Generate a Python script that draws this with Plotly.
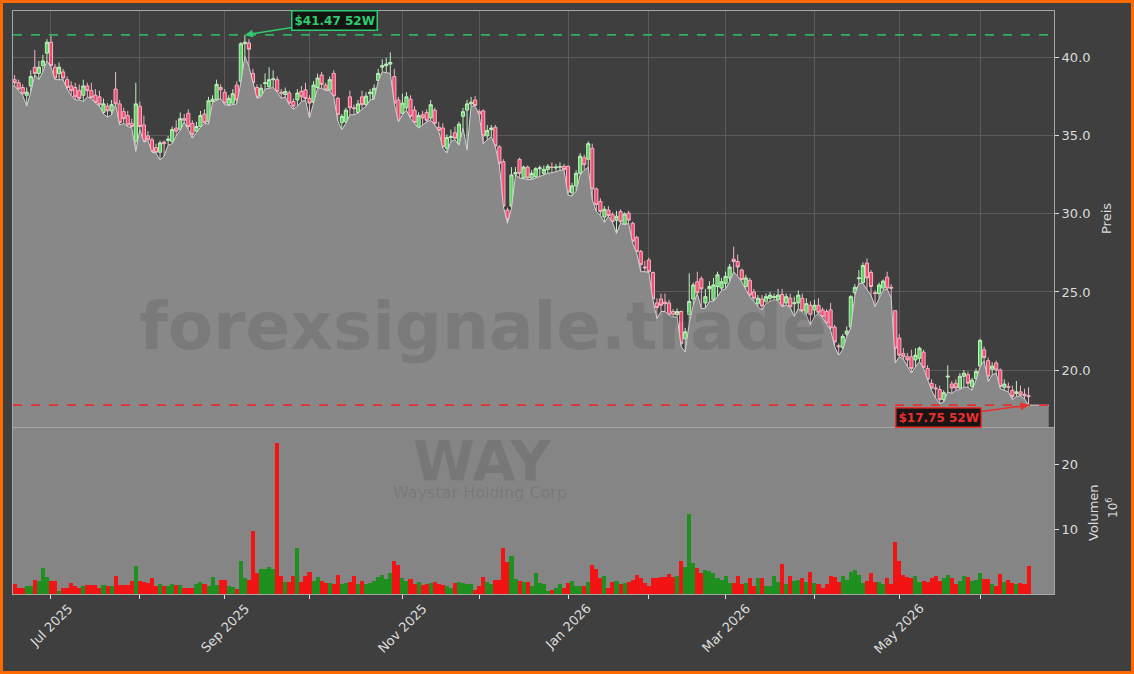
import numpy as np
import pandas as pd
import plotly.graph_objects as go

# ---------------- data ----------------
open_ = [38.6,38.4,38.1,37.6,38.2,39.4,39.0,39.5,40.3,41.0,
39.4,39.0,39.1,38.6,38.2,38.1,37.9,37.6,38.2,37.9,
37.6,37.5,36.5,36.9,36.6,38.0,37.05,36.55,36.3,35.8,
34.65,36.9,35.7,35.0,34.75,34.25,33.95,34.6,34.7,34.65,
35.5,35.4,36.1,36.45,35.8,35.3,35.6,36.4,35.9,37.2,
37.3,38.1,37.8,37.0,37.1,38.25,38.5,40.9,40.95,39.0,
38.1,37.55,38.35,38.15,38.6,38.6,37.8,37.65,37.75,37.2,
37.3,37.85,37.95,37.4,37.15,38.1,38.9,38.25,37.95,39.0,
37.4,35.85,35.9,37.5,36.8,36.5,37.5,37.0,37.7,37.4,
38.55,39.4,39.5,39.6,38.8,37.3,36.45,36.8,37.35,36.65,
35.55,36.35,36.5,36.15,36.65,35.55,35.5,34.2,34.9,35.2,
34.5,36.25,36.65,37.05,37.3,36.55,36.6,35.0,35.4,35.55,
34.3,33.35,30.25,30.5,32.55,33.5,32.3,33.0,32.3,32.4,
32.9,32.6,32.85,33.0,32.95,33.0,33.05,33.05,31.35,31.8,
32.6,33.6,33.5,34.2,31.6,30.8,29.8,30.25,29.95,29.6,
30.15,29.35,30.05,29.4,28.5,27.6,26.6,27.05,26.25,24.3,
24.55,24.35,24.3,23.75,23.55,23.75,22.0,23.55,24.55,25.65,
25.85,24.3,25.2,24.5,25.35,25.25,25.55,25.9,27.1,26.95,
26.4,25.35,25.75,25.0,24.25,24.55,24.4,24.6,24.65,24.5,
24.85,24.3,24.6,24.25,24.3,24.6,23.65,24.15,23.85,24.15,
23.85,23.75,23.85,22.75,21.55,21.45,22.3,22.75,24.95,25.85,
25.6,26.85,26.25,24.95,24.9,25.25,25.95,25.3,23.8,22.05,
21.05,20.85,20.85,20.65,20.75,21.15,20.1,19.15,18.85,18.75,
18.1,19.55,19.1,19.15,18.85,19.6,19.7,18.95,19.45,20.25,
21.3,20.6,20.05,20.45,20.0,18.9,18.95,18.7,18.5,18.6,
18.45,18.35]

high = [38.9,38.6,38.3,38.1,39.2,40.5,39.8,40.2,41.2,41.4,
39.6,39.7,39.3,38.8,38.5,38.4,38.3,38.6,38.4,38.4,
38.0,37.9,37.4,37.1,37.3,39.1,37.3,36.8,36.6,36.1,
38.4,37.2,36.3,35.3,34.9,34.5,34.7,34.7,35.0,35.6,
36.0,36.5,36.4,36.7,36.0,35.9,36.6,36.7,37.5,37.6,
38.6,38.3,38.0,37.6,38.0,38.5,41.0,41.47,41.2,39.3,
38.3,38.3,39.0,39.4,39.2,38.8,38.0,38.1,37.9,37.4,
38.0,38.2,38.4,37.6,38.5,39.0,39.1,38.4,38.8,39.2,
37.5,36.4,36.8,37.9,37.0,37.3,37.9,37.8,38.0,38.3,
39.3,39.9,40.0,40.35,39.3,37.5,37.7,37.8,37.6,36.9,
36.5,36.6,36.7,37.3,36.8,35.9,35.8,35.1,35.4,35.6,
35.9,36.8,37.3,37.5,37.55,36.7,36.7,35.7,35.7,35.7,
34.4,33.5,30.4,33.0,33.0,33.6,33.1,33.1,32.8,33.0,
33.1,33.1,33.2,33.3,33.2,33.3,33.2,33.1,32.0,32.8,
33.9,33.8,34.65,34.5,31.7,31.0,30.5,30.5,30.1,30.2,
30.3,30.1,30.2,29.5,28.6,27.7,27.0,27.2,26.3,24.6,
24.9,24.9,24.5,23.9,23.95,23.8,22.7,26.2,25.6,26.3,
26.0,25.2,25.7,25.9,26.3,25.9,26.3,26.8,27.9,27.4,
26.5,26.1,25.9,25.2,24.8,24.8,24.9,25.0,24.9,25.2,
25.2,24.9,24.9,24.7,25.1,24.9,24.6,24.4,24.5,24.6,
24.0,23.9,24.3,22.9,21.7,22.3,22.8,24.8,25.5,26.4,
26.9,27.15,26.4,25.1,25.6,25.8,26.3,25.5,23.85,22.3,
21.4,21.1,21.3,21.4,21.5,21.3,20.3,19.4,19.1,19.0,
18.7,20.3,19.3,19.4,19.8,20.0,19.9,19.5,20.1,22.0,
21.5,20.8,20.5,20.6,20.1,19.4,19.2,19.0,19.3,19.0,
18.8,18.9]

low = [38.2,37.9,37.6,36.9,37.8,38.9,38.6,39.1,39.8,39.4,
38.6,38.6,38.6,38.0,37.6,37.3,37.3,37.2,37.5,37.4,
37.1,36.9,36.4,36.2,36.35,37.0,35.7,35.8,35.6,35.5,
34.0,35.4,34.6,34.7,33.95,33.9,33.45,33.7,34.4,34.5,
35.0,35.35,35.9,35.4,34.85,35.2,35.55,35.8,35.75,37.15,
37.25,37.4,37.0,36.95,37.0,37.05,38.4,40.1,39.45,38.35,
37.4,37.5,38.0,38.05,38.1,37.8,37.4,37.5,37.0,36.7,
36.9,37.2,37.3,36.15,37.1,38.05,38.05,37.9,37.9,37.5,
35.95,35.4,35.8,36.35,36.35,36.45,36.7,36.9,37.3,37.35,
38.5,39.1,39.05,39.0,37.05,35.9,36.35,36.65,36.1,35.8,
35.5,35.7,35.9,36.0,35.7,35.3,34.2,33.9,34.65,34.75,
34.4,35.5,34.1,36.9,36.9,36.35,34.5,34.75,34.95,34.3,
33.1,30.45,29.4,30.35,32.5,32.3,32.25,32.2,32.2,32.3,
32.4,32.45,32.6,32.65,32.7,32.8,32.8,31.2,31.15,31.45,
32.5,32.8,33.0,30.9,30.15,29.9,29.45,29.85,29.45,28.75,
29.4,29.3,29.4,28.1,27.5,26.3,26.3,26.25,24.5,23.3,
23.75,23.75,23.5,23.4,23.4,21.5,21.15,23.0,24.15,24.9,
23.95,23.95,24.4,24.4,24.7,25.1,25.2,25.65,26.3,26.0,
25.65,25.15,24.7,24.4,24.05,23.85,24.25,24.4,24.5,24.45,
24.05,24.15,24.0,23.4,23.95,23.7,23.5,22.9,23.4,23.65,
23.35,22.95,22.55,21.5,20.95,21.3,22.15,22.7,24.8,25.55,
25.55,25.15,24.8,24.05,24.6,25.1,25.2,24.6,20.45,20.85,
20.7,20.2,19.8,20.2,20.55,20.1,19.35,18.7,18.2,17.85,
17.95,18.6,18.5,18.7,18.75,18.9,18.9,18.7,19.35,20.2,
20.6,19.25,19.7,19.8,18.8,18.7,18.6,18.1,18.3,18.35,
18.15,17.75]

close = [38.4,38.0,37.7,37.8,38.8,39.0,39.4,39.8,41.0,39.5,
38.7,39.4,38.7,38.1,37.9,37.5,37.4,38.2,37.9,37.45,
37.15,37.0,37.05,36.6,37.0,37.05,35.85,36.1,35.7,35.6,
37.05,35.6,34.65,34.75,34.0,33.95,34.55,34.5,34.8,35.4,
35.3,36.1,36.0,35.6,35.1,35.6,36.3,35.85,37.25,37.35,
38.3,37.95,37.1,37.4,37.7,37.3,40.9,41.0,40.55,38.4,
37.45,38.05,38.4,38.6,38.65,37.85,37.7,37.85,37.1,36.9,
37.75,37.5,37.4,37.1,38.25,38.7,38.3,37.95,38.6,37.55,
36.35,36.25,36.65,36.8,36.75,37.05,37.0,37.55,37.8,38.05,
39.0,39.5,39.6,39.7,37.1,35.95,37.1,37.5,36.25,35.85,
36.3,36.15,36.0,37.0,35.8,35.35,34.3,34.9,34.95,34.85,
35.75,36.55,37.05,37.15,36.95,36.4,35.0,35.35,35.5,34.35,
33.25,30.5,29.65,32.5,32.65,32.6,33.0,32.3,32.6,32.9,
32.95,32.85,33.05,32.98,33.0,33.02,32.85,31.4,31.8,32.6,
33.7,33.15,34.5,31.6,30.6,30.15,30.3,29.9,29.5,29.85,
29.5,30.0,29.6,28.25,27.6,26.75,26.55,26.3,24.55,24.0,
24.15,24.25,23.55,23.55,23.75,21.7,22.45,24.4,25.45,24.95,
25.2,24.7,25.35,25.45,26.1,25.65,26.0,26.6,26.95,26.6,
25.8,25.9,24.8,24.6,24.6,24.1,24.7,24.8,24.7,24.8,
24.1,24.7,24.05,24.3,24.8,23.8,24.25,23.55,24.15,23.7,
23.4,23.0,22.7,21.8,21.5,22.15,22.5,24.7,25.3,25.9,
26.7,25.9,25.35,24.9,25.45,25.7,25.25,25.25,21.4,20.95,
20.85,20.65,20.1,20.95,21.4,20.15,19.4,18.85,18.8,18.1,
18.55,19.6,18.85,18.85,19.6,19.8,19.15,19.35,19.9,21.9,
20.8,19.6,20.25,20.0,18.95,19.1,18.9,18.3,18.6,18.4,
18.35,18.3]

volume_m = [1.8,1.2,1.2,1.4,1.5,2.4,2.2,4.2,2.8,2.2,
2.2,0.7,1.2,1.2,1.9,1.4,1.2,1.5,1.6,1.6,
1.6,1.2,1.6,1.5,1.5,3.0,1.6,1.6,1.6,2.2,
4.5,2.2,2.1,1.9,2.7,1.5,1.8,1.5,1.5,1.8,
1.6,1.6,1.1,1.2,1.2,1.7,2.1,1.7,1.5,2.9,
1.6,2.4,2.4,1.5,1.3,1.0,5.3,2.7,2.4,9.9,
3.4,4.0,4.0,4.4,4.1,23.2,3.0,2.1,2.1,3.0,
7.2,2.1,3.0,3.6,2.2,2.8,2.2,1.9,1.9,1.8,
3.2,1.8,1.9,2.1,3.0,1.8,2.2,1.8,1.9,2.2,
2.8,3.2,2.5,3.5,5.2,4.6,2.7,2.3,2.6,1.7,
2.1,1.6,1.8,1.9,2.1,1.7,1.6,1.5,1.2,2.0,
2.1,1.9,1.7,1.8,0.8,1.4,2.9,2.1,1.7,2.4,
2.4,7.3,5.1,6.0,2.6,2.3,2.1,2.1,1.4,3.4,
2.0,1.8,0.7,0.8,1.1,1.8,1.2,2.0,2.2,1.4,
1.5,1.4,2.1,4.6,4.1,2.7,3.0,1.2,2.1,2.2,
1.7,2.0,2.1,2.4,3.2,2.7,1.9,1.4,2.7,2.7,
2.8,2.8,3.3,2.9,3.0,5.2,4.4,12.4,5.0,4.2,
3.4,3.9,3.8,3.5,2.7,2.4,3.0,1.9,2.0,3.0,
1.8,1.9,2.7,1.4,2.7,2.7,1.5,1.5,3.0,2.1,
4.8,1.8,3.0,2.3,2.4,2.7,2.1,3.6,2.0,1.8,
1.2,1.8,3.0,2.8,2.1,3.0,2.4,3.6,3.9,3.2,
2.0,2.3,3.5,2.1,2.1,1.8,2.7,1.8,8.2,5.2,
3.2,2.9,2.7,3.0,2.1,2.2,2.1,2.7,3.0,2.2,
2.7,3.1,2.7,1.7,2.2,3.0,2.8,2.3,2.4,3.4,
2.5,2.5,1.8,1.4,3.3,2.1,2.4,1.9,1.7,1.9,
1.8,4.5]

start_date = "2025-06-17"
market_holidays = ["2025-06-19", "2025-07-04", "2025-09-01", "2025-11-27", "2025-12-25",
                   "2026-01-01", "2026-01-19", "2026-02-16", "2026-04-03", "2026-05-25"]
ticker = "WAY"
company = "Waystar Holding Corp"
watermark = "forexsignale.trade"

n = len(close)
assert len(open_) == n and len(high) == n and len(low) == n and len(volume_m) == n

bd = pd.bdate_range(start_date, periods=n + 20)
bd = bd[~bd.isin(pd.to_datetime(market_holidays))][:n]
idx = list(range(n))

# month ticks (first trading day of each month); labels every other month
tickvals, ticktext = [], []
for i in range(1, n):
    if bd[i].month != bd[i - 1].month:
        tickvals.append(i)
        ticktext.append(bd[i].strftime("%b %Y") if bd[i].month % 2 == 1 else "")

hi52 = max(high)
lo52 = min(low)
i_hi = high.index(hi52)
i_lo = low.index(lo52)

# ---------------- layout geometry ----------------
W, H = 1134, 674
ML, MR, MT, MB = 13, 80, 11, 80
PW, PH = W - ML - MR, H - MT - MB
XR = [-0.4, 257.3]

def px(xp):
    return (xp - ML) / PW

def py(yp):
    return (H - MB - yp) / PH

BG = "#3f3f3f"
FILL = "#888888"
VOLBG = "#858585"
GRID = "#5b5b5b"
SPINE = "#a6a6a6"
TXT = "#dcdcdc"
FONT = "DejaVu Sans"

fig = go.Figure()

# grey area under the low line
fx = [XR[0]] + idx + [XR[1] - 1.3]
fy = [low[0]] + low + [low[-1]]
fig.add_trace(go.Scatter(x=fx, y=fy, mode="lines", fill="tozeroy",
                         line=dict(color="#d2d2d2", width=1), fillcolor=FILL,
                         hoverinfo="skip", xaxis="x", yaxis="y"))

fig.add_trace(go.Candlestick(
    x=idx, open=open_, high=high, low=low, close=close,
    increasing=dict(line=dict(color="#bfeebf", width=1), fillcolor="#5fd35f"),
    decreasing=dict(line=dict(color="#f4b3c3", width=1), fillcolor="#f24a6e"),
    whiskerwidth=0, xaxis="x", yaxis="y", hoverinfo="skip"))

vcol = ["#1f8f1f" if c >= o else "#f21414" for o, c in zip(open_, close)]
fig.add_trace(go.Bar(x=idx, y=volume_m, marker=dict(color=vcol, line=dict(width=0)),
                     width=1.0, xaxis="x2", yaxis="y2", hoverinfo="skip"))

y_dom_price = [py(427), 1.0]
y_dom_vol = [0.0, py(428)]

fig.update_layout(
    width=W, height=H,
    margin=dict(l=ML, r=MR, t=MT, b=MB),
    paper_bgcolor=BG, plot_bgcolor=BG,
    showlegend=False, bargap=0, boxgap=0.22, boxgroupgap=0,
    font=dict(family=FONT, size=13, color=TXT),
    xaxis=dict(domain=[0, 1], range=XR, anchor="y", tickvals=tickvals, showticklabels=False,
               showgrid=True, gridcolor=GRID, gridwidth=1, zeroline=False,
               showline=True, mirror=True, linecolor=SPINE, linewidth=1,
               rangeslider=dict(visible=False), ticks=""),
    yaxis=dict(domain=y_dom_price, range=[16.35, 43.0], side="right", anchor="x",
               tickvals=[20, 25, 30, 35, 40], tickformat=".1f",
               ticks="outside", ticklen=4, tickcolor=TXT, tickfont=dict(size=13, color=TXT),
               showgrid=True, gridcolor=GRID, gridwidth=1, zeroline=False,
               showline=True, mirror=True, linecolor=SPINE, linewidth=1),
    xaxis2=dict(domain=[0, 1], range=XR, anchor="y2", tickvals=tickvals, showticklabels=False,
                ticks="outside", ticklen=4, tickcolor=TXT, showgrid=False, zeroline=False,
                showline=True, mirror=True, linecolor=SPINE, linewidth=1),
    yaxis2=dict(domain=y_dom_vol, range=[0.25, 25.5], side="right", anchor="x2",
                tickvals=[10, 20], ticks="outside", ticklen=4, tickcolor=TXT,
                tickfont=dict(size=13, color=TXT), showgrid=False, zeroline=False,
                showline=True, mirror=True, linecolor=SPINE, linewidth=1),
)

shapes = [
    dict(type="rect", xref="x2 domain", yref="y2 domain", x0=0, x1=1, y0=0, y1=1,
         fillcolor=VOLBG, line=dict(width=0), layer="below"),
    dict(type="line", xref="x domain", yref="y", x0=0, x1=1, y0=hi52, y1=hi52,
         line=dict(color="#35b060", width=1.6, dash="dash")),
    dict(type="line", xref="x domain", yref="y", x0=0, x1=1, y0=lo52, y1=lo52,
         line=dict(color="#e53030", width=1.6, dash="dash")),
    dict(type="rect", xref="paper", yref="paper",
         x0=px(1.5), x1=px(W - 1.5), y0=py(H - 1.5), y1=py(1.5),
         line=dict(color="#ff6a00", width=3), fillcolor="rgba(0,0,0,0)"),
]
fig.update_layout(shapes=shapes)

wm = "rgba(0,0,0,0.10)"
annotations = [
    dict(text="<b>" + watermark + "</b>", xref="paper", yref="paper", x=px(483), y=py(326),
         showarrow=False, font=dict(size=66, color=wm, family=FONT),
         xanchor="center", yanchor="middle"),
    dict(text="<b>" + ticker + "</b>", xref="paper", yref="paper", x=px(482), y=py(460),
         showarrow=False, font=dict(size=56, color=wm, family=FONT),
         xanchor="center", yanchor="middle"),
    dict(text=company, xref="paper", yref="paper", x=px(480), y=py(492),
         showarrow=False, font=dict(size=16, color=wm, family=FONT),
         xanchor="center", yanchor="middle"),
    dict(text="<b>$%.2f 52W</b>" % hi52, x=i_hi, y=hi52, xref="x", yref="y",
         ax=90, ay=-14, showarrow=True, arrowhead=2, arrowsize=1, arrowwidth=1.6,
         arrowcolor="#2ecc71", font=dict(size=12, color="#2ecc71", family=FONT),
         bgcolor="#141414", bordercolor="#2ecc71", borderwidth=1.5, borderpad=2),
    dict(text="<b>$%.2f 52W</b>" % lo52, x=i_lo, y=lo52, xref="x", yref="y",
         ax=-90, ay=12, showarrow=True, arrowhead=2, arrowsize=1, arrowwidth=1.6,
         arrowcolor="#e8302f", font=dict(size=12, color="#e8302f", family=FONT),
         bgcolor="#1a1414", bordercolor="#e8302f", borderwidth=1.5, borderpad=2),
    dict(text="Preis", xref="paper", yref="paper", x=px(1106), y=py(219), textangle=-90,
         showarrow=False, font=dict(size=13, color=TXT), xanchor="center", yanchor="middle"),
    dict(text="Volumen", xref="paper", yref="paper", x=px(1093), y=py(513), textangle=-90,
         showarrow=False, font=dict(size=13, color=TXT), xanchor="center", yanchor="middle"),
    dict(text="10<sup>6</sup>", xref="paper", yref="paper", x=px(1112), y=py(508), textangle=-90,
         showarrow=False, font=dict(size=12, color=TXT), xanchor="center", yanchor="middle"),
]
# rotated month labels, centred under their ticks
for tv, tt in zip(tickvals, ticktext):
    if tt:
        annotations.append(dict(text=tt, x=tv, xref="x2", y=py(598), yref="paper",
                                textangle=-45, showarrow=False, xanchor="center", yanchor="top",
                                font=dict(size=13, color=TXT, family=FONT)))
fig.update_layout(annotations=annotations)

fig.write_html("out.html", config={"displayModeBar": False},
               post_script="document.body.style.margin='0';document.body.style.overflow='hidden';")
